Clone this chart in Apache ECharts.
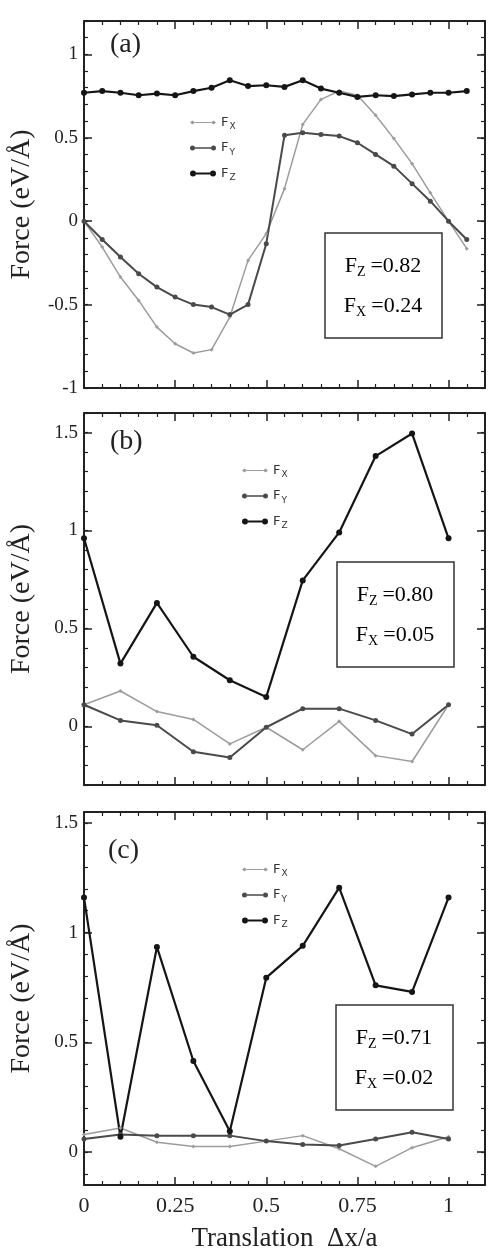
<!DOCTYPE html>
<html>
<head>
<meta charset="utf-8">
<script src="https://cdn.jsdelivr.net/npm/echarts@6/dist/echarts.min.js"></script>
<style>
  html, body { margin: 0; background: #fff; }
  #chart { width: 491px; height: 1256px; }
</style>
</head>
<body>
<div id="chart"></div>
<script>
// panel (a): finer steps of 0.05
const xA = [0, 0.05, 0.1, 0.15, 0.2, 0.25, 0.3, 0.35, 0.4, 0.45, 0.5, 0.55, 0.6, 0.65, 0.7, 0.75, 0.8, 0.85, 0.9, 0.95, 1, 1.05];
const fxA = [0, -0.155, -0.335, -0.475, -0.635, -0.735, -0.79, -0.77, -0.575, -0.235, -0.075, 0.195, 0.58, 0.73, 0.78, 0.755, 0.635, 0.495, 0.345, 0.17, 0, -0.165];
const fyA = [0, -0.11, -0.215, -0.315, -0.395, -0.455, -0.5, -0.515, -0.56, -0.5, -0.135, 0.515, 0.53, 0.52, 0.51, 0.47, 0.4, 0.33, 0.225, 0.12, 0, -0.11];
const fzA = [0.77, 0.78, 0.77, 0.755, 0.765, 0.755, 0.78, 0.8, 0.845, 0.81, 0.815, 0.805, 0.845, 0.795, 0.77, 0.745, 0.755, 0.75, 0.76, 0.77, 0.77, 0.78];

// panels (b) and (c): steps of 0.1
const xB = [0, 0.1, 0.2, 0.3, 0.4, 0.5, 0.6, 0.7, 0.8, 0.9, 1];
const fxB = [0.11, 0.18, 0.075, 0.035, -0.09, -0.005, -0.12, 0.025, -0.15, -0.18, 0.11];
const fyB = [0.11, 0.03, 0.005, -0.13, -0.16, -0.005, 0.09, 0.09, 0.03, -0.04, 0.11];
const fzB = [0.96, 0.32, 0.63, 0.355, 0.235, 0.15, 0.745, 0.99, 1.38, 1.495, 0.96];

const xC = [0, 0.1, 0.2, 0.3, 0.4, 0.5, 0.6, 0.7, 0.8, 0.9, 1];
const fxC = [0.08, 0.11, 0.045, 0.025, 0.025, 0.05, 0.075, 0.015, -0.065, 0.02, 0.07];
const fyC = [0.06, 0.08, 0.075, 0.075, 0.075, 0.05, 0.035, 0.03, 0.06, 0.09, 0.06];
const fzC = [1.16, 0.07, 0.935, 0.415, 0.095, 0.795, 0.94, 1.205, 0.76, 0.73, 1.16];

const xTicks = [0, 0.25, 0.5, 0.75, 1];
const yTicksA = [-1, -0.5, 0, 0.5, 1];
const yTicksB = [0, 0.5, 1, 1.5];
const yTicksC = [0, 0.5, 1, 1.5];

const panelTags = ['(a)', '(b)', '(c)'];
const fzStat = ['0.82', '0.80', '0.71'];
const fxStat = ['0.24', '0.05', '0.02'];

const serif = '"Liberation Serif", "Times New Roman", serif';
const ink = '#222';
const colors = { Fx: '#9c9c9c', Fy: '#4a4a4a', Fz: '#151515' };

const panels = [
  { x: xA, fx: fxA, fy: fyA, fz: fzA, yTicks: yTicksA, min: -1, max: 1.2, top: 21, height: 367,
    legend: [185, 111], box: [325, 233], tag: [110, 45] },
  { x: xB, fx: fxB, fy: fyB, fz: fzB, yTicks: yTicksB, min: -0.3, max: 1.6, top: 413, height: 372,
    legend: [237, 459], box: [337, 562], tag: [110, 442] },
  { x: xC, fx: fxC, fy: fyC, fz: fzC, yTicks: yTicksC, min: -0.15, max: 1.55, top: 812, height: 373,
    legend: [237, 858], box: [336, 1005], tag: [108, 851] }
];

function minorValues(min, max) {
  const out = [];
  for (let k = Math.ceil(min * 10 - 1e-6); k <= Math.floor(max * 10 + 1e-6); k++) out.push(k / 10);
  return out;
}

const frameLine = { color: ink, width: 2 };
const grid = [], xAxis = [], yAxis = [], series = [], legend = [], graphic = [];

panels.forEach((p, i) => {
  grid.push({ left: 83, width: 402, top: p.top, height: p.height });

  ['bottom', 'top'].forEach(pos => {
    xAxis.push({
      gridIndex: i, type: 'value', position: pos, min: 0, max: 1.1, interval: 0.25,
      axisLine: { onZero: false, lineStyle: frameLine },
      axisTick: { inside: true, length: 8, lineStyle: { color: ink, width: 1.5 } },
      minorTick: { show: true, splitNumber: 5, length: 4, lineStyle: { color: ink, width: 1.2 } },
      splitLine: { show: false },
      axisLabel: {
        show: pos === 'bottom' && i === 2, customValues: xTicks,
        fontFamily: serif, fontSize: 22, color: ink, margin: 10
      },
      name: pos === 'bottom' && i === 2 ? 'Translation  \u0394x/a' : '',
      nameLocation: 'middle', nameGap: 40,
      nameTextStyle: { fontFamily: serif, fontSize: 27, color: ink }
    });
  });

  ['left', 'right'].forEach(pos => {
    yAxis.push({
      gridIndex: i, type: 'value', position: pos, min: p.min, max: p.max,
      axisLine: { onZero: false, lineStyle: frameLine },
      axisTick: { inside: true, length: 8, customValues: p.yTicks, lineStyle: { color: ink, width: 1.5 } },
      splitLine: { show: false },
      axisLabel: {
        show: pos === 'left', customValues: p.yTicks,
        fontFamily: serif, fontSize: 19, color: ink, margin: 6
      },
      name: pos === 'left' ? 'Force (eV/\u00c5)' : '',
      nameLocation: 'middle', nameGap: 48, nameRotate: 90,
      nameTextStyle: { fontFamily: serif, fontSize: 28, color: ink }
    });
    yAxis.push({
      gridIndex: i, type: 'value', position: pos, min: p.min, max: p.max,
      axisLine: { show: false, onZero: false },
      axisTick: { inside: true, length: 4, customValues: minorValues(p.min, p.max), lineStyle: { color: ink, width: 1.2 } },
      splitLine: { show: false },
      axisLabel: { show: false }
    });
  });

  const xIdx = i * 2, yIdx = i * 4;
  const line = (name, vals, width, symbol, size) => ({
    name, type: 'line', xAxisIndex: xIdx, yAxisIndex: yIdx,
    data: p.x.map((x, k) => [x, vals[k]]),
    symbol, symbolSize: size, showSymbol: true,
    lineStyle: { color: colors[name], width },
    itemStyle: { color: colors[name] },
    animation: false
  });
  series.push(line('Fx', p.fx, 1.5, 'diamond', 4));
  series.push(line('Fy', p.fy, 2, 'circle', 5));
  series.push(line('Fz', p.fz, 2.2, 'circle', 6));

  legend.push({
    orient: 'vertical', left: p.legend[0], top: p.legend[1],
    itemWidth: 26, itemHeight: 6, itemGap: 10, selectedMode: false,
    data: [
      { name: 'Fx', icon: 'path://M0,3L2.5,1L5,3L2.5,5ZM5,2.6H21V3.4H5ZM21,3L23.5,1L26,3L23.5,5Z' },
      { name: 'Fy', icon: 'path://M0,3a2.5,2.5 0 1,0 5,0a2.5,2.5 0 1,0 -5,0ZM5,2.2H21V3.8H5ZM21,3a2.5,2.5 0 1,0 5,0a2.5,2.5 0 1,0 -5,0Z' },
      { name: 'Fz', icon: 'path://M0,3a3,3 0 1,0 6,0a3,3 0 1,0 -6,0ZM6,2H20V4H6ZM20,3a3,3 0 1,0 6,0a3,3 0 1,0 -6,0Z' }
    ],
    formatter: n => '{f|F}{s|' + n[1].toUpperCase() + '}',
    textStyle: {
      color: '#333',
      rich: {
        f: { fontFamily: 'DejaVu Sans', fontSize: 13, color: '#333', verticalAlign: 'middle' },
        s: { fontFamily: 'DejaVu Sans', fontSize: 9, color: '#333', verticalAlign: 'bottom', padding: [9, 0, 0, 1] }
      }
    }
  });

  const bx = p.box[0], by = p.box[1];
  const statRich = {
    f: { fontFamily: serif, fontSize: 22, color: ink, verticalAlign: 'middle' },
    s: { fontFamily: serif, fontSize: 14, color: ink, verticalAlign: 'bottom', padding: [12, 0, 0, 0] },
    v: { fontFamily: serif, fontSize: 22, color: ink, verticalAlign: 'middle', padding: [0, 0, 0, 5] }
  };
  graphic.push(
    { type: 'rect', shape: { x: bx, y: by, width: 117, height: 105 },
      style: { fill: 'transparent', stroke: '#333', lineWidth: 1.5 } },
    { type: 'text', x: bx + 58, y: by + 33,
      style: { text: '{f|F}{s|Z}{v|=' + fzStat[i] + '}', rich: statRich, textAlign: 'center', textVerticalAlign: 'middle' } },
    { type: 'text', x: bx + 58, y: by + 73,
      style: { text: '{f|F}{s|X}{v|=' + fxStat[i] + '}', rich: statRich, textAlign: 'center', textVerticalAlign: 'middle' } },
    { type: 'text', x: p.tag[0], y: p.tag[1],
      style: { text: panelTags[i], fontFamily: serif, fontSize: 28, fill: ink, textAlign: 'left', textVerticalAlign: 'middle' } }
  );
});

const chart = echarts.init(document.getElementById('chart'), null, { renderer: 'canvas' });
chart.setOption({
  backgroundColor: '#fff',
  animation: false,
  grid, xAxis, yAxis, series, legend, graphic
});
</script>
</body>
</html>
